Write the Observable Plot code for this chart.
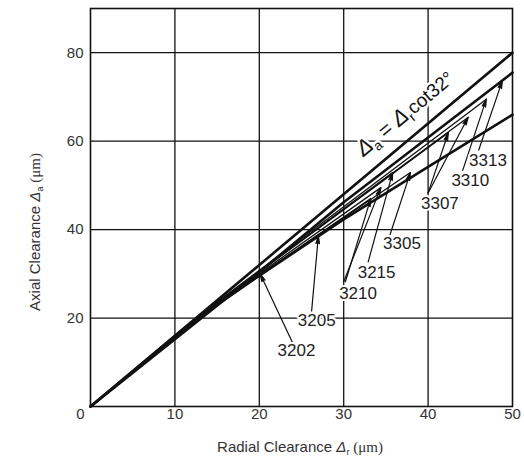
<!DOCTYPE html>
<html><head><meta charset="utf-8">
<script src="https://cdn.jsdelivr.net/npm/d3@7"></script>
<script src="https://cdn.jsdelivr.net/npm/@observablehq/plot@0.6"></script>
<style>body{margin:0;background:#fff} svg{display:block}</style>
</head><body><div id="chart"></div>
<script>
// ---- tick labels ----
const xTicks = [10, 20, 30, 40, 50];
const yTicks = [20, 40, 60, 80];

// ---- thick reference curves (radial clearance -> axial clearance, µm) ----
const cot32X = [0, 50];
const cot32Y = [0, 80];
const upperX = [0, 20, 30, 50];
const upperY = [0, 30.4, 46.2, 75.5];
const lowerX = [0, 12, 20, 30, 40, 50];
const lowerY = [0, 19, 29.6, 42.3, 54.2, 66];

// ---- thin bearing curves (each ends at its limit) ----
const curveNames = ["3205", "3210", "3210b", "3215", "3305", "3307", "3307b", "3310"];
const curveMidX  = [15, 15, 15, 15, 15, 15, 15, 15];
const curveMidY  = [23.0, 23.3, 23.2, 23.5, 23.2, 23.5, 23.4, 23.6];
const curveEndX  = [27.0, 34.4, 33.2, 35.8, 37.9, 44.75, 42.4, 46.9];
const curveEndY  = [38.6, 49.5, 47.0, 52.9, 52.9, 65.4, 61.9, 69.5];

// ---- bearing labels ----
const labelNames = ["3202", "3205", "3210", "3215", "3305", "3307", "3310", "3313"];
const labelX = [24.4, 26.8, 31.7, 33.9, 36.9, 41.4, 45.0, 47.1];
const labelY = [12.7, 19.4, 25.6, 30.3, 36.9, 45.9, 51.1, 55.6];

// ---- arrows from labels to curves ----
const arrowFromX = [23.9, 26.2, 30.0, 30.2, 32.9, 35.5, 40.0, 40.0, 44.1, 46.0];
const arrowFromY = [14.6, 21.6, 28.2, 28.2, 32.7, 38.9, 48.3, 48.3, 53.4, 58.0];
const arrowToX   = [20.1, 27.0, 34.4, 33.2, 35.8, 37.9, 44.75, 42.4, 46.9, 48.8];
const arrowToY   = [30.0, 38.6, 49.5, 47.0, 52.9, 52.9, 65.4, 61.9, 69.5, 73.7];

// ---- build tables ----
const thick = [];
cot32X.forEach((x, i) => thick.push({curve: "cot32", x, y: cot32Y[i]}));
upperX.forEach((x, i) => thick.push({curve: "upper", x, y: upperY[i]}));
lowerX.forEach((x, i) => thick.push({curve: "lower", x, y: lowerY[i]}));
const thin = [];
curveNames.forEach((c, i) => {
  thin.push({curve: c, x: 0, y: 0});
  thin.push({curve: c, x: curveMidX[i], y: curveMidY[i]});
  thin.push({curve: c, x: curveEndX[i], y: curveEndY[i]});
});
const labels = labelNames.map((t, i) => ({t, x: labelX[i], y: labelY[i]}));
const arrows = arrowFromX.map((x1, i) => ({x1, y1: arrowFromY[i], x2: arrowToX[i], y2: arrowToY[i]}));

const font = "'Liberation Sans', Arial, sans-serif";

const plot = Plot.plot({
  width: 524,
  height: 462,
  marginLeft: 90,
  marginRight: 12,
  marginTop: 8,
  marginBottom: 56,
  style: {fontFamily: font, background: "#fff"},
  x: {domain: [0, 50]},
  y: {domain: [0, 90]},
  marks: [
    Plot.gridX(xTicks.slice(0, 4), {stroke: "#111", strokeOpacity: 1, strokeWidth: 1.3}),
    Plot.gridY(yTicks, {stroke: "#111", strokeOpacity: 1, strokeWidth: 1.3}),
    Plot.axisX(xTicks, {tickSize: 0, tickPadding: 2, fontSize: 15, fill: "#333", label: null}),
    Plot.axisY(yTicks, {tickSize: 0, tickPadding: 7, fontSize: 15, fill: "#333", label: null}),
    Plot.text([0], {x: 0, y: 0, text: d => String(d), dx: -10, dy: 8, fontSize: 15, fill: "#333"}),
    Plot.frame({stroke: "#111", strokeWidth: 1.6}),
    Plot.line(thin, {x: "x", y: "y", z: "curve", stroke: "#111", strokeWidth: 1.3}),
    Plot.line(thick, {x: "x", y: "y", z: "curve", stroke: "#111", strokeWidth: 2.6}),
    Plot.arrow(arrows, {x1: "x1", y1: "y1", x2: "x2", y2: "y2", stroke: "#111", fill: "#111",
      strokeWidth: 1.2, headLength: 10, headAngle: 26}),
    Plot.text(labels, {x: "x", y: "y", text: "t", fontSize: 17, fill: "#222",
      stroke: "white", strokeWidth: 4})
  ]
});

document.getElementById("chart").appendChild(plot);

// ---- annotations with subscripts ----
const svg = d3.select(plot);
const sx = plot.scale("x"), sy = plot.scale("y");

function addDelta(t, sub, size) {
  t.append("tspan").attr("font-style", "italic").attr("font-size", size).text("\u0394");
  t.append("tspan").attr("font-size", size * 0.62).attr("dy", size * 0.22).text(sub);
  return t;
}

// y title
{
  const t = svg.append("text")
    .attr("transform", "translate(40,232) rotate(-90)")
    .attr("text-anchor", "middle").attr("font-size", 15).attr("fill", "#333")
    .attr("font-family", font);
  t.append("tspan").text("Axial Clearance ");
  addDelta(t, "a", 15);
  t.append("tspan").attr("dy", -15 * 0.22).attr("font-family", "'Liberation Serif', serif").text(" (\u03bcm)");
}
// x title
{
  const t = svg.append("text")
    .attr("transform", "translate(300,452)")
    .attr("text-anchor", "middle").attr("font-size", 15).attr("fill", "#333")
    .attr("font-family", font);
  t.append("tspan").text("Radial Clearance ");
  addDelta(t, "r", 15);
  t.append("tspan").attr("dy", -15 * 0.22).attr("font-family", "'Liberation Serif', serif").text(" (\u03bcm)");
}
// formula along the cot32 line
{
  const ang = -Math.atan2(sy.apply(0) - sy.apply(80), sx.apply(50) - sx.apply(0)) * 180 / Math.PI;
  const px = sx.apply(38.0) - 6, py = sy.apply(60.8) - 24;
  const t = svg.append("text")
    .attr("transform", `translate(${px},${py}) rotate(${ang})`)
    .attr("text-anchor", "middle").attr("dy", "0.35em")
    .attr("font-size", 21).attr("fill", "#111").attr("font-family", font)
    .attr("stroke", "white").attr("stroke-width", 5).attr("paint-order", "stroke");
  addDelta(t, "a", 22);
  t.append("tspan").attr("dy", -22 * 0.22).text(" = ");
  addDelta(t, "r", 22);
  t.append("tspan").attr("dy", -22 * 0.22).attr("font-size", 19).text("cot32\u00b0");
}
</script>
</body></html>
